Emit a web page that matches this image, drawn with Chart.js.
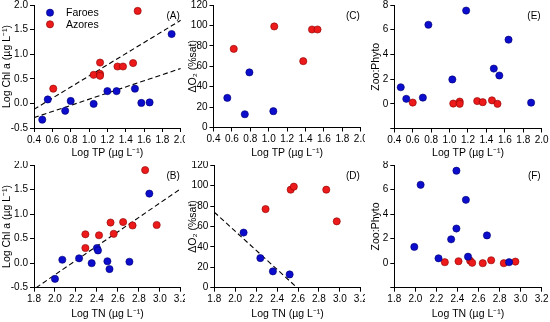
<!DOCTYPE html>
<html>
<head>
<meta charset="utf-8">
<script src="https://cdn.jsdelivr.net/npm/chart.js@4.4.0/dist/chart.umd.min.js"></script>
<style>
  body { margin: 0; background: #fff; width: 550px; height: 322px; position: relative; overflow: hidden; }
  canvas { position: absolute; }
</style>
</head>
<body>
<canvas id="chartA" width="185" height="161" style="left:0;top:0"></canvas>
<canvas id="chartC" width="180" height="161" style="left:185px;top:0"></canvas>
<canvas id="chartE" width="185" height="161" style="left:365px;top:0"></canvas>
<canvas id="chartB" width="185" height="161" style="left:0;top:161px"></canvas>
<canvas id="chartD" width="180" height="161" style="left:185px;top:161px"></canvas>
<canvas id="chartF" width="185" height="161" style="left:365px;top:161px"></canvas>
<script>
// (A) Log TP vs Log Chl a
const tpFaroesA = [0.49, 0.55, 0.74, 0.80, 1.05, 1.20, 1.30, 1.50, 1.57, 1.66, 1.90];
const chlFaroesA = [-0.33, 0.08, -0.15, 0.05, -0.01, 0.25, 0.25, 0.30, 0.01, 0.02, 1.41];
const tpAzoresA = [0.61, 1.05, 1.12, 1.12, 1.12, 1.31, 1.37, 1.48, 1.53];
const chlAzoresA = [0.30, 0.58, 0.83, 0.60, 0.56, 0.75, 0.75, 0.82, 1.88];
const fitAzoresA_x = [0.4, 2.0], fitAzoresA_y = [-0.12, 1.69];
const fitFaroesA_x = [0.4, 2.0], fitFaroesA_y = [-0.29, 0.71];

// (B) Log TN vs Log Chl a
const tnFaroesB = [2.00, 2.07, 2.23, 2.35, 2.40, 2.41, 2.50, 2.52, 2.71, 2.90];
const chlFaroesB = [-0.32, 0.07, 0.10, 0.00, 0.31, 0.26, 0.04, -0.12, 0.03, 1.42];
const tnAzoresB = [2.29, 2.29, 2.42, 2.53, 2.56, 2.65, 2.74, 2.86, 2.97];
const chlAzoresB = [0.59, 0.31, 0.57, 0.83, 0.60, 0.84, 0.77, 1.90, 0.78];
const fitB_x = [1.82, 3.2], fitB_y = [-0.5, 1.52];

// (C) Log TP vs delta O2
const tpFaroesC = [0.55, 0.74, 0.79, 1.05];
const o2FaroesC = [29, 13, 54, 16];
const tpAzoresC = [0.62, 1.06, 1.375, 1.47, 1.53];
const o2AzoresC = [77, 99, 65, 96, 96];

// (D) Log TN vs delta O2
const tnFaroesD = [2.08, 2.24, 2.36, 2.52];
const o2FaroesD = [54, 29, 16, 13];
const tnAzoresD = [2.29, 2.53, 2.56, 2.87, 2.97];
const o2AzoresD = [77, 96, 99, 96, 65];
const fitD_x = [1.8, 2.57], fitD_y = [74, 2];

// (E) Log TP vs Zoo:Phyto
const tpFaroesE = [0.47, 0.53, 0.71, 0.77, 1.03, 1.18, 1.48, 1.54, 1.64, 1.885];
const zpFaroesE = [1.34, 0.40, 0.50, 6.4, 1.97, 7.55, 2.85, 2.29, 5.19, 0.09];
const tpAzoresE = [0.60, 1.04, 1.11, 1.11, 1.30, 1.36, 1.46, 1.52];
const zpAzoresE = [0.10, 0.02, 0.18, 0.0, 0.22, 0.13, 0.28, 0.0];

// (F) Log TN vs Zoo:Phyto
const tnFaroesF = [1.99, 2.05, 2.22, 2.34, 2.39, 2.39, 2.48, 2.50, 2.68, 2.89];
const zpFaroesF = [1.33, 6.4, 0.40, 1.95, 2.83, 7.55, 5.17, 0.53, 2.27, 0.08];
const tnAzoresF = [2.28, 2.41, 2.52, 2.54, 2.64, 2.72, 2.84, 2.95];
const zpAzoresF = [0.08, 0.16, 0.21, 0.03, 0.0, 0.24, 0.0, 0.13];

const FONT = '"Liberation Sans", Arial, sans-serif';
const tickFont = { family: FONT, size: 10 };
const titleFont = { family: FONT, size: 10.5 };
const blue = '#0c0ccc', blueEdge = '#000070';
const red = '#ec1a1a', redEdge = '#8a0000';

function pts(xs, ys) {
  return xs.map((x, i) => ({ x: x, y: ys[i] }));
}

function dots(label, xs, ys, fill, edge) {
  return { label: label, data: pts(xs, ys), backgroundColor: fill, borderColor: edge,
    borderWidth: 0.6, pointRadius: 3.6, pointHoverRadius: 3.6 };
}

function fitLine(xs, ys) {
  return { label: 'fit', data: pts(xs, ys), showLine: true, borderColor: '#000', borderWidth: 1.1,
    borderDash: [5, 3], pointRadius: 0, fill: false };
}

// draws the panel letter and, for panel A, the legend
const panelText = {
  id: 'panelText',
  afterDraw(chart, args, opts) {
    const ctx = chart.ctx;
    const a = chart.chartArea;
    ctx.save();
    ctx.fillStyle = '#000';
    ctx.font = '10px ' + FONT;
    ctx.textAlign = 'right';
    ctx.textBaseline = 'middle';
    ctx.fillText(opts.text, a.right - 1, a.top + 11);
    if (opts.legend) {
      const items = [['Faroes', blue, blueEdge], ['Azores', red, redEdge]];
      ctx.textAlign = 'left';
      ctx.font = '10.5px ' + FONT;
      items.forEach((it, i) => {
        const y = a.top + 7.7 + i * 11.6;
        ctx.beginPath();
        ctx.arc(a.left + 16, y, 3.6, 0, Math.PI * 2);
        ctx.fillStyle = it[1];
        ctx.fill();
        ctx.lineWidth = 0.6;
        ctx.strokeStyle = it[2];
        ctx.stroke();
        ctx.fillStyle = '#000';
        ctx.fillText(it[0], a.left + 32, y + 0.5);
      });
    }
    ctx.restore();
  }
};

function scaleOpts(s, isX, g) {
  return {
    type: 'linear',
    min: s.min,
    max: s.max,
    ticks: {
      stepSize: s.step,
      font: tickFont,
      color: '#000',
      padding: 2,
      maxRotation: 0,
      autoSkip: false,
      callback: v => (s.hide !== undefined && Math.abs(v - s.hide) < 1e-9) ? '' : v.toFixed(s.dec)
    },
    grid: { drawOnChartArea: false, tickLength: 4, color: '#000', lineWidth: 1 },
    border: { color: '#000', width: 1 },
    title: {
      display: true, text: s.title, font: titleFont, color: '#000',
      padding: isX ? { top: 0, bottom: g.xtPad } : { top: g.ytPad, bottom: 0 }
    },
    afterFit: sc => {
      if (isX) {
        sc.height = g.xh;
        sc.paddingLeft = 0;
        sc.paddingRight = 0;
      } else {
        sc.width = g.left;
        sc.paddingTop = 0;
        sc.paddingBottom = 0;
      }
    }
  };
}

function makeChart(id, g, xs, ys, datasets, tag, legend) {
  return new Chart(document.getElementById(id), {
    type: 'scatter',
    data: { datasets: datasets },
    options: {
      responsive: false,
      animation: false,
      layout: { padding: { left: 0, top: g.top, right: g.right, bottom: 0 } },
      plugins: {
        legend: { display: false },
        tooltip: { enabled: false },
        panelText: { text: tag, legend: legend }
      },
      scales: { x: scaleOpts(xs, true, g), y: scaleOpts(ys, false, g) }
    },
    plugins: [panelText]
  });
}

const xTP = { min: 0.4, max: 2.0, step: 0.2, dec: 1, title: 'Log TP (\u00b5g L\u207b\u00b9)' };
const xTN = { min: 1.8, max: 3.2, step: 0.2, dec: 1, title: 'Log TN (\u00b5g L\u207b\u00b9)' };
const yChl = { min: -0.5, max: 2.0, step: 0.5, dec: 1, title: 'Log Chl a (\u00b5g L\u207b\u00b9)' };
const yO2 = { min: 0, max: 120, step: 20, dec: 0, title: '\u0394O\u2082 (%sat)' };
const yZP = { min: -2, max: 8, step: 2, dec: 0, hide: -2, title: 'Zoo:Phyto' };

makeChart('chartA', { left: 34, top: 5, right: 3, xh: 33, xtPad: 2, ytPad: 0.5 }, xTP, yChl, [
  dots('Faroes', tpFaroesA, chlFaroesA, blue, blueEdge),
  dots('Azores', tpAzoresA, chlAzoresA, red, redEdge),
  fitLine(fitAzoresA_x, fitAzoresA_y),
  fitLine(fitFaroesA_x, fitFaroesA_y)
], '(A)', true);

makeChart('chartB', { left: 34, top: 4, right: 3, xh: 34.3, xtPad: 1.5, ytPad: 0.5 }, xTN, yChl, [
  dots('Faroes', tnFaroesB, chlFaroesB, blue, blueEdge),
  dots('Azores', tnAzoresB, chlAzoresB, red, redEdge),
  fitLine(fitB_x, fitB_y)
], '(B)', false);

makeChart('chartC', { left: 28.5, top: 5, right: 3, xh: 33.5, xtPad: 2, ytPad: 2.2 }, xTP, yO2, [
  dots('Faroes', tpFaroesC, o2FaroesC, blue, blueEdge),
  dots('Azores', tpAzoresC, o2AzoresC, red, redEdge)
], '(C)', false);

makeChart('chartD', { left: 29.3, top: 4, right: 3.3, xh: 34.3, xtPad: 1.5, ytPad: 2.2 }, xTN, yO2, [
  dots('Faroes', tnFaroesD, o2FaroesD, blue, blueEdge),
  dots('Azores', tnAzoresD, o2AzoresD, red, redEdge),
  fitLine(fitD_x, fitD_y)
], '(D)', false);

makeChart('chartE', { left: 29.3, top: 5, right: 8.3, xh: 32.5, xtPad: 2, ytPad: 4.4 }, xTP, yZP, [
  dots('Faroes', tpFaroesE, zpFaroesE, blue, blueEdge),
  dots('Azores', tpAzoresE, zpAzoresE, red, redEdge)
], '(E)', false);

makeChart('chartF', { left: 29.3, top: 3.3, right: 8.3, xh: 34.3, xtPad: 1.5, ytPad: 4.4 }, xTN, yZP, [
  dots('Faroes', tnFaroesF, zpFaroesF, blue, blueEdge),
  dots('Azores', tnAzoresF, zpAzoresF, red, redEdge)
], '(F)', false);
</script>
</body>
</html>
